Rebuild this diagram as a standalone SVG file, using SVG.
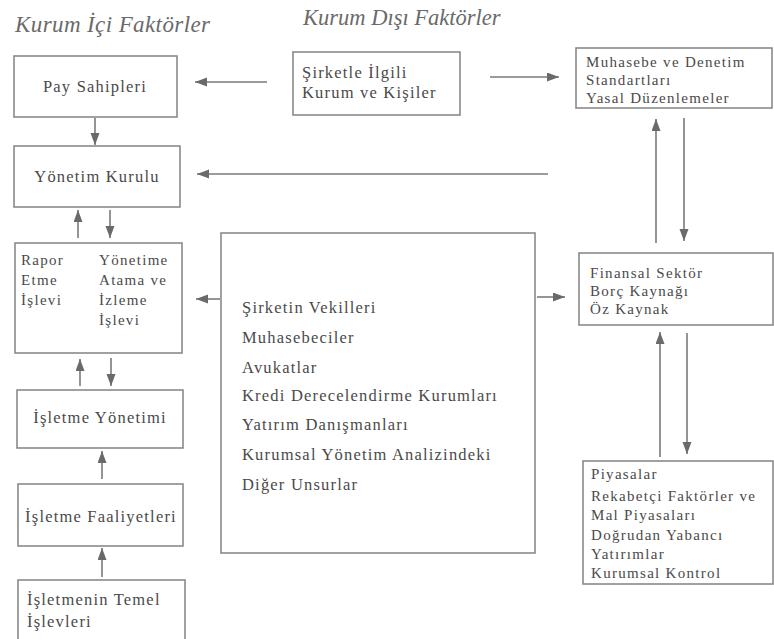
<svg xmlns="http://www.w3.org/2000/svg" width="774" height="639" viewBox="0 0 774 639">
<style>
.bg{fill:#ffffff}
.box{fill:#ffffff;stroke:#8a8a8a;stroke-width:1.6}
.t{font-family:"Liberation Serif","Times New Roman",serif;font-size:16.5px;letter-spacing:1.2px;fill:#4a4a4a}
.s{font-size:15px;letter-spacing:1.3px}
.c{text-anchor:middle}
.title{font-family:"Liberation Serif","Times New Roman",serif;font-style:italic;font-size:23px;fill:#6a6a6a}
.ln{stroke:#7a7a7a;stroke-width:1.6;fill:none;marker-end:url(#ah)}
</style>
<defs>
<marker id="ah" markerUnits="userSpaceOnUse" markerWidth="13" markerHeight="10" refX="12" refY="4.5" orient="auto">
<path d="M0,0 L12,4.5 L0,9 z" fill="#6a6a6a"/>
</marker>
</defs>
<rect class="bg" x="0" y="0" width="774" height="639"/>
<text class="title" x="15" y="32" style="letter-spacing:0.4px">Kurum İçi Faktörler</text>
<text class="title" x="303" y="25" style="font-size:22.5px">Kurum Dışı Faktörler</text>

<g id="connectors">
<line class="ln" x1="267" y1="82" x2="195" y2="82"/>
<line class="ln" x1="490" y1="77" x2="559" y2="77"/>
<line class="ln" x1="95" y1="118" x2="95" y2="145"/>
<line class="ln" x1="548" y1="174" x2="197" y2="174"/>
<line class="ln" x1="78" y1="238" x2="78" y2="210"/>
<line class="ln" x1="110" y1="210" x2="110" y2="238"/>
<line class="ln" x1="220" y1="299" x2="196" y2="299"/>
<line class="ln" x1="537" y1="297" x2="565" y2="297"/>
<line class="ln" x1="80" y1="386" x2="80" y2="359"/>
<line class="ln" x1="111" y1="358" x2="111" y2="386"/>
<line class="ln" x1="102" y1="479" x2="102" y2="451"/>
<line class="ln" x1="102" y1="577" x2="102" y2="548"/>
<line class="ln" x1="656" y1="243" x2="656" y2="119"/>
<line class="ln" x1="684" y1="118" x2="684" y2="241"/>
<line class="ln" x1="660" y1="457" x2="660" y2="332"/>
<line class="ln" x1="687" y1="333" x2="687" y2="454"/>
</g>

<g id="pay-sahipleri">
<rect class="box" x="14" y="56" width="163" height="61"/>
<text class="t c" x="95" y="92">Pay Sahipleri</text>
</g>
<g id="yonetim-kurulu">
<rect class="box" x="14" y="146" width="166" height="61"/>
<text class="t c" x="97" y="182">Yönetim Kurulu</text>
</g>
<g id="rapor">
<rect class="box" x="15" y="243" width="167" height="110"/>
<text class="t s" x="21" y="265">Rapor</text>
<text class="t s" x="21" y="285">Etme</text>
<text class="t s" x="21" y="305">İşlevi</text>
<text class="t s" x="99" y="265">Yönetime</text>
<text class="t s" x="99" y="285">Atama ve</text>
<text class="t s" x="99" y="305">İzleme</text>
<text class="t s" x="99" y="325">İşlevi</text>
</g>
<g id="isletme-yonetimi">
<rect class="box" x="17" y="390" width="166" height="58"/>
<text class="t c" x="100" y="423">İşletme Yönetimi</text>
</g>
<g id="isletme-faaliyetleri">
<rect class="box" x="18" y="484" width="165" height="62"/>
<text class="t c" x="101" y="522">İşletme Faaliyetleri</text>
</g>
<g id="temel-islevler">
<rect class="box" x="18" y="580" width="167" height="70"/>
<text class="t" x="27" y="605">İşletmenin Temel</text>
<text class="t" x="27" y="627">İşlevleri</text>
</g>
<g id="sirketle-ilgili">
<rect class="box" x="293" y="52" width="167" height="63"/>
<text class="t" x="302" y="78">Şirketle İlgili</text>
<text class="t" x="302" y="98">Kurum ve Kişiler</text>
</g>
<g id="muhasebe">
<rect class="box" x="576" y="48" width="196" height="60"/>
<text class="t s" x="586" y="67">Muhasebe ve Denetim</text>
<text class="t s" x="586" y="85">Standartları</text>
<text class="t s" x="586" y="103">Yasal Düzenlemeler</text>
</g>
<g id="vekiller">
<rect class="box" x="221" y="233" width="314" height="320"/>
<text class="t" x="242" y="313">Şirketin Vekilleri</text>
<text class="t" x="242" y="343">Muhasebeciler</text>
<text class="t" x="242" y="373">Avukatlar</text>
<text class="t" x="242" y="401">Kredi Derecelendirme Kurumları</text>
<text class="t" x="242" y="430">Yatırım Danışmanları</text>
<text class="t" x="242" y="460">Kurumsal Yönetim Analizindeki</text>
<text class="t" x="242" y="490">Diğer Unsurlar</text>
</g>
<g id="finansal">
<rect class="box" x="579" y="253" width="194" height="72"/>
<text class="t s" x="590" y="278">Finansal Sektör</text>
<text class="t s" x="590" y="296">Borç Kaynağı</text>
<text class="t s" x="590" y="314">Öz Kaynak</text>
</g>
<g id="piyasalar">
<rect class="box" x="583" y="461" width="190" height="123"/>
<text class="t s" x="591" y="479">Piyasalar</text>
<text class="t s" x="591" y="501">Rekabetçi Faktörler ve</text>
<text class="t s" x="591" y="520">Mal Piyasaları</text>
<text class="t s" x="591" y="540">Doğrudan Yabancı</text>
<text class="t s" x="591" y="559">Yatırımlar</text>
<text class="t s" x="591" y="578">Kurumsal Kontrol</text>
</g>
</svg>
